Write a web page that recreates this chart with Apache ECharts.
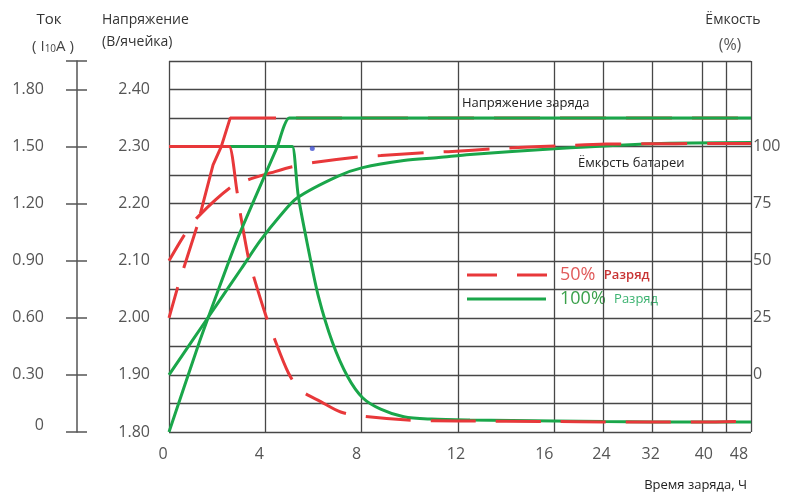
<!DOCTYPE html>
<html><head><meta charset="utf-8">
<script src="https://cdn.jsdelivr.net/npm/echarts@6/dist/echarts.min.js"></script>
<style>html,body{margin:0;padding:0;background:#fff}#c{width:794px;height:496px}</style>
</head><body><div id="c"></div>
<script>
// ---- axis ticks / labels ----
const xTickHours  = [0, 4, 8, 12, 16, 24, 32, 40, 44, 48];
const xLabelHours = [0, 4, 8, 12, 16, 24, 32, 40, 48];
const voltLabels  = [1.80, 1.90, 2.00, 2.10, 2.20, 2.30, 2.40];
const currLabels  = [0, 0.30, 0.60, 0.90, 1.20, 1.50, 1.80];
const capLabels   = [0, 25, 50, 75, 100];

// ---- 50% discharge (red, dashed) ----
const redVoltHours = [0, 0.375, 1.17, 1.83, 2.17, 2.54, 48];
const redVoltValues = [2.00, 2.056, 2.161, 2.268, 2.30, 2.35, 2.35];
const redCurrHours = [0, 2.4, 2.5, 2.83, 2.96, 3.29, 3.46, 4.0, 4.29, 4.96, 5.46, 6.3, 7.13, 7.96, 9.9, 12, 16, 24, 32, 40, 48];
const redCurrValues = [1.5, 1.5, 1.5, 1.26, 1.15, 0.92, 0.84, 0.62, 0.52, 0.31, 0.22, 0.16, 0.105, 0.084, 0.063, 0.058, 0.055, 0.053, 0.052, 0.052, 0.058];
const redCapHours = [0, 0.67, 1.17, 2.54, 3.29, 4.25, 5.12, 6.0, 7.96, 8.8, 10.75, 11.6, 13.6, 14.5, 17.35, 24.4, 35.8, 48];
const redCapValues = [50, 61.8, 68.9, 82.0, 85.5, 88.6, 91.2, 93.0, 95.6, 96.1, 97.4, 97.8, 99.1, 99.6, 100.4, 101.1, 101.3, 101.4];

// ---- 100% discharge (green, solid) ----
const greenVoltHours = [0, 1.29, 2.83, 4.5, 5.0, 48];
const greenVoltValues = [1.80, 1.961, 2.137, 2.30, 2.35, 2.35];
const greenCurrHours = [0, 5.0, 5.12, 5.37, 5.79, 6.21, 6.79, 7.42, 8.04, 8.79, 9.75, 10.9, 12.5, 16, 24, 32, 40, 48];
const greenCurrValues = [1.5, 1.5, 1.5, 1.24, 0.96, 0.71, 0.47, 0.29, 0.18, 0.12, 0.08, 0.068, 0.063, 0.058, 0.055, 0.053, 0.052, 0.052];
const greenCapHours = [0, 0.96, 2.0, 3.0, 3.79, 4.6, 5.33, 7.0, 8.04, 9.75, 11.2, 12.5, 16, 32, 48];
const greenCapValues = [0, 14.9, 31.0, 46.5, 58.8, 69.5, 77.6, 87.0, 90.8, 93.9, 95.2, 96.5, 99.1, 101.3, 101.8];

// stray blue dot in the original picture
const dotHours = [5.95];
const dotValues = [2.2965];

// ---- time scale: linear to 16 h, compressed after ----
const BREAK = 16, SLOW = 0.2553;
const xPos = h => h <= BREAK ? h : BREAK + (h - BREAK) * SLOW;
const xHour = p => p <= BREAK + 1e-9 ? p : BREAK + (p - BREAK) / SLOW;
const pts = (hs, vs) => hs.map((h, i) => [xPos(h), vs[i]]);

const RED = '#e8383a', GREEN = '#1aa64a';
const rep = (head, d, g) => { const a = head.slice(); for (let i = 0; i < 40; i++) a.push(d, g); return a; };
const FONT = '"Open Sans", "Noto Sans", sans-serif';
const labelColor = '#555';
const gridLine = { show: true, lineStyle: { color: '#474747', width: 1.3 } };

const xShift = { 0: -6, 4: -6, 8: -5, 12: -2, 16: -10, 24: -2, 32: -2, 40: 2, 48: -12 };
const xRich = {};
xLabelHours.forEach(h => {
  const s = xShift[h] || 0;
  xRich['o' + h] = { fontSize: 16, fontFamily: FONT, color: labelColor,
    padding: s < 0 ? [0, -2 * s, 0, 0] : [0, 0, 0, 2 * s] };
});

const isLabel = (arr, v) => arr.some(a => Math.abs(a - v) < 1e-6);

const chart = echarts.init(document.getElementById('c'), null, { renderer: 'canvas' });

const txt = (x, y, text, font, fill, align, extra) => ({
  type: 'text', x, y, silent: true,
  style: Object.assign({ text, font, fill, align, verticalAlign: 'middle', textAlign: align, textVerticalAlign: 'middle' }, extra || {})
});

const lineSeries = (name, axis, hs, vs, color, dash, smooth) => ({
  name, type: 'line', yAxisIndex: axis, data: pts(hs, vs), showSymbol: false, symbol: 'none',
  smooth: smooth || false,
  lineStyle: { color, width: 3, type: dash || 'solid' }
});

chart.setOption({
  animation: false,
  backgroundColor: '#fff',
  grid: { left: 169, right: 43, top: 61, bottom: 64, containLabel: false, outerBoundsMode: 'none' },
  xAxis: {
    type: 'value', min: 0, max: xPos(48),
    axisLine: { show: false },
    axisTick: { show: false, customValues: xTickHours.map(xPos) },
    splitLine: gridLine,
    axisLabel: {
      customValues: xLabelHours.map(xPos), margin: 14,
      formatter: v => { const h = Math.round(xHour(v)); return '{o' + h + '|' + h + '}'; },
      rich: xRich
    }
  },
  yAxis: [
    { // voltage
      type: 'value', position: 'left', min: 1.80, max: 2.45, interval: 0.05,
      axisLine: { show: false }, axisTick: { show: false },
      splitLine: gridLine,
      axisLabel: { margin: 19, color: labelColor, fontSize: 16, fontFamily: FONT,
        formatter: v => isLabel(voltLabels, v) ? v.toFixed(2) : '' }
    },
    { // current
      type: 'value', position: 'left', offset: 92, min: 0, max: 1.95, interval: 0.3,
      axisLine: { show: true, lineStyle: { color: '#555', width: 1.5 } },
      axisTick: { show: true, length: 11, lineStyle: { color: '#555', width: 1.5 } },
      splitLine: { show: false },
      axisLabel: { margin: 33, color: labelColor, fontSize: 16, fontFamily: FONT,
        formatter: v => isLabel(currLabels, v) ? (v === 0 ? '{z|0}' : v.toFixed(2)) : '',
        rich: { z: { fontSize: 16, fontFamily: FONT, color: labelColor, padding: [0, 0, 14, 0] } } }
    },
    { // capacity
      type: 'value', position: 'right', min: -25, max: 137.5, interval: 25,
      axisLine: { show: false }, axisTick: { show: false }, splitLine: { show: false },
      axisLabel: { margin: 2, color: labelColor, fontSize: 16, fontFamily: FONT,
        formatter: v => isLabel(capLabels, v) ? String(v) : '' }
    },
    { // current axis: inner half of crossing ticks
      type: 'value', position: 'left', offset: 92, min: 0, max: 1.95, interval: 0.3,
      axisLine: { show: false },
      axisTick: { show: true, inside: true, length: 10, lineStyle: { color: '#555', width: 1.5 } },
      axisLabel: { show: false }, splitLine: { show: false }
    }
  ],
  series: [
    lineSeries('100% ток', 1, greenCurrHours, greenCurrValues, GREEN, null, 0.3),
    lineSeries('100% ёмкость', 2, greenCapHours, greenCapValues, GREEN, null, 0.3),
    lineSeries('50% напряжение', 0, redVoltHours, redVoltValues, RED, rep([32, 20, 43, 14, 146, 20], 46, 20)),
    lineSeries('50% ток', 1, redCurrHours, redCurrValues, RED, rep([108, 20], 45, 20), 0.3),
    lineSeries('50% ёмкость', 2, redCapHours, redCapValues, RED, rep([30, 20], 46, 20), 0.3),
    lineSeries('100% напряжение', 0, greenVoltHours, greenVoltValues, GREEN, null, 0.15),
    { name: 'dot', type: 'scatter', yAxisIndex: 0, data: pts(dotHours, dotValues), symbolSize: 5,
      itemStyle: { color: '#3f4fd0' } }
  ],
  graphic: [
    txt(49, 20, 'Ток', '15px ' + FONT, '#333', 'center'),
    txt(53, 47, '{n|( I}{s|10}{n|A )}', '14px ' + FONT, '#444', 'center',
      { rich: { n: { fontSize: 15, fontFamily: FONT, fill: '#444', color: '#444' }, s: { fontSize: 10, fontFamily: FONT, fill: '#444', color: '#444', padding: [5, 0, 0, 0] } } }),
    txt(102, 20, 'Напряжение', '14px ' + FONT, '#333', 'left'),
    txt(102, 42, '(В/ячейка)', '14px ' + FONT, '#333', 'left'),
    txt(733, 20, 'Ёмкость', '14px ' + FONT, '#333', 'center'),
    txt(730, 45, '(%)', '16px ' + FONT, '#555', 'center'),
    txt(747, 485, 'Время заряда, Ч', '13px ' + FONT, '#222', 'right'),
    txt(462, 103, 'Напряжение заряда', '13px ' + FONT, '#222', 'left'),
    txt(578, 163, 'Ёмкость батареи', '13px ' + FONT, '#222', 'left'),
    { type: 'line', silent: true, shape: { x1: 467, y1: 275, x2: 547, y2: 275 },
      style: { stroke: RED, lineWidth: 3, lineDash: [30, 20] } },
    { type: 'line', silent: true, shape: { x1: 467, y1: 299, x2: 546, y2: 299 },
      style: { stroke: GREEN, lineWidth: 3 } },
    txt(560, 275, '{a|50%}  {b|Разряд}', '16px ' + FONT, RED, 'left',
      { rich: { a: { fontSize: 18, fontFamily: FONT, fill: '#e05a5a', color: '#e05a5a' }, b: { fontSize: 13, fontWeight: 600, fontFamily: FONT, fill: '#c83434', color: '#c83434' } } }),
    txt(560, 299, '{a|100%}  {b|Разряд}', '16px ' + FONT, GREEN, 'left',
      { rich: { a: { fontSize: 18, fontFamily: FONT, fill: '#3aa04a', color: '#3aa04a' }, b: { fontSize: 13, fontFamily: FONT, fill: '#3cb371', color: '#3cb371' } } })
  ]
});
</script></body></html>
